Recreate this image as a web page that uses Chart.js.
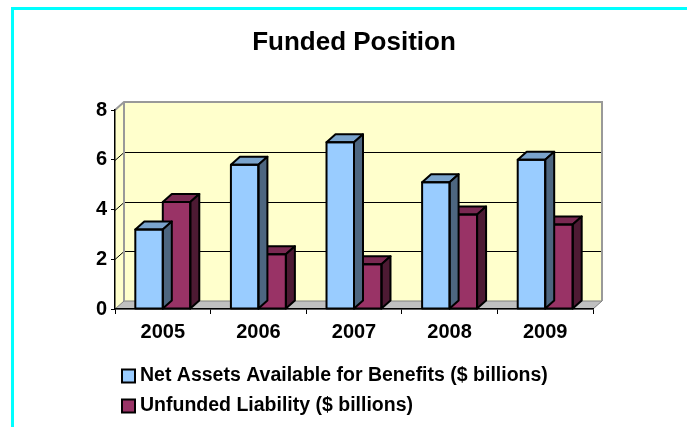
<!DOCTYPE html>
<html>
<head>
<meta charset="utf-8">
<script src="https://cdn.jsdelivr.net/npm/chart.js@4/dist/chart.umd.min.js"></script>
<style>
  html, body { margin: 0; padding: 0; background: #fff; overflow: hidden; }
  #frame {
    position: absolute; left: 11px; top: 7px; width: 700px; height: 440px;
    border-top: 3px solid #00FFFF; border-left: 3px solid #00FFFF;
  }
  #chart { position: absolute; left: 14px; top: 10px; }
</style>
</head>
<body>
<div id="frame"></div>
<canvas id="chart" width="684" height="417" style="width:684px;height:417px"></canvas>
<script>
const years = ['2005', '2006', '2007', '2008', '2009'];
const netAssets = [3.2, 5.8, 6.7, 5.1, 6.0];
const unfunded = [4.3, 2.2, 1.8, 3.8, 3.4];
const seriesNames = [
    'Net Assets Available for Benefits ($ billions)',
    'Unfunded Liability ($ billions)'
];
const yMax = 8;
const yStep = 2;

const FONT = 'Arial, "Liberation Sans", sans-serif';
const DX = 9;   // depth of the 3d effect, right
const DY = 8;   // depth of the 3d effect, up

const frontColors = ['#99CCFF', '#993366'];
const topColors = ['#7AA3CC', '#7A2952'];
const sideColors = ['#4D6680', '#4D1A33'];

// back wall, side wall, floor and gridlines on the back wall
const walls = {
    id: 'walls',
    beforeDraw(chart) {
        const { ctx, chartArea: a, scales: { y } } = chart;
        ctx.save();
        ctx.fillStyle = '#FFFFCC';
        ctx.beginPath();
        ctx.moveTo(a.left, a.top);
        ctx.lineTo(a.left + DX, a.top - DY);
        ctx.lineTo(a.right + DX, a.top - DY);
        ctx.lineTo(a.right + DX, a.bottom - DY);
        ctx.lineTo(a.left, a.bottom);
        ctx.closePath();
        ctx.fill();

        ctx.strokeStyle = '#000';
        ctx.lineWidth = 1;
        for (let v = yStep; v < yMax; v += yStep) {
            const py = Math.round(y.getPixelForValue(v)) + 0.5;
            ctx.beginPath();
            ctx.moveTo(a.left, py);
            ctx.lineTo(a.left + DX, py - DY);
            ctx.lineTo(a.right + DX, py - DY);
            ctx.stroke();
        }

        // floor
        ctx.fillStyle = '#C0C0C0';
        ctx.strokeStyle = '#808080';
        ctx.beginPath();
        ctx.moveTo(a.left, a.bottom);
        ctx.lineTo(a.right, a.bottom);
        ctx.lineTo(a.right + DX, a.bottom - DY);
        ctx.lineTo(a.left + DX, a.bottom - DY);
        ctx.closePath();
        ctx.fill();
        ctx.stroke();

        // wall outline
        ctx.strokeStyle = '#999999';
        ctx.lineWidth = 2;
        ctx.beginPath();
        ctx.moveTo(a.left, a.top);
        ctx.lineTo(a.left + DX, a.top - DY);
        ctx.lineTo(a.right + DX, a.top - DY);
        ctx.lineTo(a.right + DX, a.bottom - DY);
        ctx.moveTo(a.left + DX, a.top - DY);
        ctx.lineTo(a.left + DX, a.bottom - DY);
        ctx.stroke();
        ctx.restore();
    }
};

// top and side faces of each column, drawn per dataset so the next series covers them
const columns3d = {
    id: 'columns3d',
    afterDatasetDraw(chart, args) {
        const { ctx } = chart;
        const i = args.index;
        ctx.save();
        ctx.strokeStyle = '#000';
        ctx.lineWidth = 2;
        ctx.lineJoin = 'round';
        args.meta.data.forEach(bar => {
            const { x, y, base, width } = bar.getProps(['x', 'y', 'base', 'width'], true);
            const l = x - width / 2, r = x + width / 2;

            ctx.fillStyle = topColors[i];
            ctx.beginPath();
            ctx.moveTo(l, y);
            ctx.lineTo(l + DX, y - DY);
            ctx.lineTo(r + DX, y - DY);
            ctx.lineTo(r, y);
            ctx.closePath();
            ctx.fill();
            ctx.stroke();

            ctx.fillStyle = sideColors[i];
            ctx.beginPath();
            ctx.moveTo(r, y);
            ctx.lineTo(r + DX, y - DY);
            ctx.lineTo(r + DX, base - DY);
            ctx.lineTo(r, base);
            ctx.closePath();
            ctx.fill();
            ctx.stroke();

            ctx.strokeRect(l, y, width, base - y);
        });
        ctx.restore();
    }
};

// legend as two rows, left aligned under the axis
const legendRows = {
    id: 'legendRows',
    afterDraw(chart) {
        const { ctx, chartArea: a } = chart;
        ctx.save();
        ctx.font = 'bold 19.5px ' + FONT;
        ctx.textBaseline = 'middle';
        ctx.textAlign = 'left';
        chart.data.datasets.forEach((ds, i) => {
            const cy = a.bottom + 67 + i * 30;
            const bx = a.left + 7;
            ctx.fillStyle = ds.backgroundColor;
            ctx.fillRect(bx, cy - 6.5, 13, 13);
            ctx.strokeStyle = '#000';
            ctx.lineWidth = 2;
            ctx.strokeRect(bx, cy - 6.5, 13, 13);
            ctx.fillStyle = '#000';
            ctx.fillText(ds.label, bx + 18, cy);
        });
        ctx.restore();
    }
};

new Chart(document.getElementById('chart'), {
    type: 'bar',
    data: {
        labels: years,
        datasets: [
            { label: seriesNames[0], data: netAssets, backgroundColor: frontColors[0], borderWidth: 0 },
            { label: seriesNames[1], data: unfunded, backgroundColor: frontColors[1], borderWidth: 0 }
        ]
    },
    options: {
        responsive: false,
        animation: false,
        devicePixelRatio: 1,
        layout: { padding: { left: 0, right: 105, top: 0, bottom: 70.5 } },
        datasets: {
            bar: { categoryPercentage: 0.575, barPercentage: 1 }
        },
        plugins: {
            legend: { display: false },
            tooltip: { enabled: false },
            title: {
                display: true,
                text: 'Funded Position',
                color: '#000',
                fullSize: false,
                font: { family: FONT, size: 26, weight: 'bold' },
                padding: { top: 17.4, bottom: 51.4 }
            }
        },
        scales: {
            x: {
                grid: {
                    display: true,
                    drawOnChartArea: false,
                    drawTicks: true,
                    tickLength: 5,
                    color: '#000'
                },
                border: { display: true, color: '#000', width: 1.5 },
                ticks: {
                    color: '#000',
                    padding: 6.5,
                    font: { family: FONT, size: 20, weight: 'bold' },
                    maxRotation: 0
                },
                afterFit: (scale) => { scale.height = 47.5; }
            },
            y: {
                min: 0,
                max: yMax,
                grid: {
                    display: true,
                    drawOnChartArea: false,
                    drawTicks: true,
                    tickLength: 4,
                    color: '#000'
                },
                border: { display: true, color: '#000', width: 1.5 },
                ticks: {
                    stepSize: yStep,
                    color: '#000',
                    padding: 4,
                    font: { family: FONT, size: 20, weight: 'bold' }
                },
                afterFit: (scale) => { scale.width = 101; }
            }
        }
    },
    plugins: [walls, columns3d, legendRows]
});
</script>
</body>
</html>
